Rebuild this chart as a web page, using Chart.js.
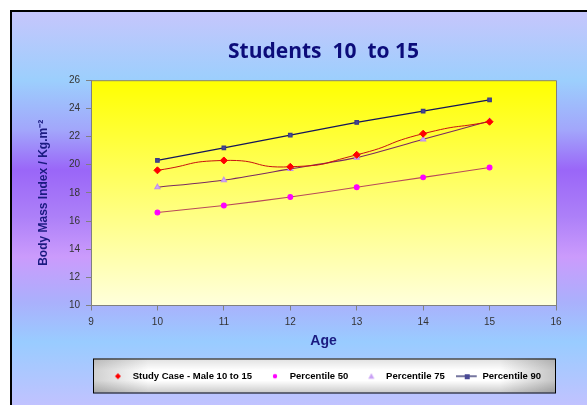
<!DOCTYPE html>
<html>
<head>
<meta charset="utf-8">
<script src="https://cdn.jsdelivr.net/npm/chart.js@4"></script>
<style>
  html, body { margin: 0; padding: 0; background: #fff; overflow: hidden; }
  body { width: 587px; height: 405px; position: relative; }
  .frame {
    position: absolute; left: 10px; top: 10px; width: 600px; height: 420px;
    border: 2px solid #000;
    background: linear-gradient(to bottom, #c6c6fc 0px, #9ccffd 68px, #a2a6fb 118px, #9a66f8 158px,
      #ad80f8 205px, #cb9bfc 245px, #aab0fc 290px, #99ccff 330px, #c2c2ff 395px);
  }
  #chart { position: absolute; left: 0; top: 0; }
</style>
</head>
<body>
<div class="frame"></div>
<canvas id="chart" width="587" height="405"></canvas>
<script>
// data
var ages = [10, 11, 12, 13, 14, 15];
var studyCase = [19.6, 20.3, 19.85, 20.7, 22.2, 23.05];
var p50 = [16.6, 17.1, 17.7, 18.4, 19.1, 19.8];
var p75 = [18.4, 18.9, 19.7, 20.5, 21.8, 23.1];
var p90 = [20.3, 21.2, 22.1, 23.0, 23.8, 24.6];
var seriesNames = ['Study Case - Male 10 to 15', 'Percentile 50', 'Percentile 75', 'Percentile 90'];
var xTicks = [9, 10, 11, 12, 13, 14, 15, 16];
var yTicks = [10, 12, 14, 16, 18, 20, 22, 24, 26];

function pts(vals) {
  return vals.map(function (v, i) { return { x: ages[i], y: v }; });
}

// little legend icons (22x10)
function makeIcon(draw) {
  var c = document.createElement('canvas');
  c.width = 22; c.height = 10;
  draw(c.getContext('2d'));
  return c;
}
var icons = [
  makeIcon(function (g) {
    g.fillStyle = '#ff0000';
    g.beginPath(); g.moveTo(12, 2); g.lineTo(15, 5); g.lineTo(12, 8); g.lineTo(9, 5); g.closePath(); g.fill();
  }),
  makeIcon(function (g) {
    g.fillStyle = '#ff00ff';
    g.beginPath(); g.arc(12, 5, 2.2, 0, Math.PI * 2); g.fill();
  }),
  makeIcon(function (g) {
    g.fillStyle = '#c9a0f5';
    g.beginPath(); g.moveTo(12, 2); g.lineTo(15, 7.5); g.lineTo(9, 7.5); g.closePath(); g.fill();
  }),
  makeIcon(function (g) {
    g.strokeStyle = '#1a1a5e'; g.lineWidth = 1.2;
    g.beginPath(); g.moveTo(0, 5); g.lineTo(21, 5); g.stroke();
    g.fillStyle = '#4a4a96';
    g.fillRect(9, 3, 5, 5);
  })
];

var bgPlugin = {
  id: 'bgPlugin',
  beforeDraw: function (chart) {
    var ctx = chart.ctx, a = chart.chartArea;
    ctx.save();
    var grd = ctx.createLinearGradient(0, a.top, 0, a.bottom);
    grd.addColorStop(0, '#ffff00');
    grd.addColorStop(1, '#ffffdc');
    ctx.fillStyle = grd;
    ctx.fillRect(a.left, a.top, a.right - a.left, a.bottom - a.top);

    // legend box
    var lg = chart.legend;
    var bx = a.left + 2, by = lg.top - 2, bw = a.right - a.left - 3, bh = 34;
    var h = ctx.createLinearGradient(bx, 0, bx + bw, 0);
    h.addColorStop(0, '#cfcfcf');
    h.addColorStop(0.12, '#ffffff');
    h.addColorStop(0.88, '#ffffff');
    h.addColorStop(1, '#c4c4c4');
    ctx.fillStyle = h;
    ctx.fillRect(bx, by, bw, bh);
    var v = ctx.createLinearGradient(0, by, 0, by + bh);
    v.addColorStop(0, 'rgba(0,0,0,0.12)');
    v.addColorStop(0.35, 'rgba(0,0,0,0)');
    v.addColorStop(0.65, 'rgba(0,0,0,0)');
    v.addColorStop(1, 'rgba(0,0,0,0.2)');
    ctx.fillStyle = v;
    ctx.fillRect(bx, by, bw, bh);
    ctx.strokeStyle = '#000';
    ctx.lineWidth = 1;
    ctx.strokeRect(bx + 0.5, by + 0.5, bw, bh);
    ctx.restore();
  },
  beforeDatasetsDraw: function (chart) {
    var ctx = chart.ctx, a = chart.chartArea;
    ctx.save();
    ctx.strokeStyle = '#808080';
    ctx.lineWidth = 1;
    ctx.beginPath();
    ctx.moveTo(a.left, a.top + 0.5);
    ctx.lineTo(a.right + 0.5, a.top + 0.5);
    ctx.lineTo(a.right + 0.5, a.bottom);
    ctx.stroke();
    ctx.restore();
  }
};

var tickFont = { family: 'Liberation Sans, Arial, sans-serif', size: 10 };

new Chart(document.getElementById('chart').getContext('2d'), {
  type: 'line',
  data: {
    datasets: [{
      label: seriesNames[0],
      data: pts(studyCase),
      borderColor: '#c81010',
      borderWidth: 1,
      tension: 0.6,
      pointStyle: 'rectRot',
      pointRadius: 3.5,
      pointBackgroundColor: '#ff0000',
      pointBorderColor: '#ff0000',
      order: 1
    }, {
      label: seriesNames[1],
      data: pts(p50),
      borderColor: '#b84a5a',
      borderWidth: 1.1,
      tension: 0.1,
      pointStyle: 'circle',
      pointRadius: 2.4,
      pointBackgroundColor: '#ff00ff',
      pointBorderColor: '#ff00ff',
      order: 3
    }, {
      label: seriesNames[2],
      data: pts(p75),
      borderColor: '#7a2a62',
      borderWidth: 1.1,
      tension: 0.2,
      pointStyle: 'triangle',
      pointRadius: 3,
      pointBackgroundColor: '#d0a8f8',
      pointBorderColor: '#c090f0',
      order: 2
    }, {
      label: seriesNames[3],
      data: pts(p90),
      borderColor: '#15155a',
      borderWidth: 1.3,
      tension: 0,
      pointStyle: 'rect',
      pointRadius: 2.4,
      pointBackgroundColor: '#4a4a96',
      pointBorderColor: '#3a3a86',
      order: 4
    }]
  },
  options: {
    responsive: false,
    animation: false,
    layout: { padding: { left: 0, right: 31, top: 39, bottom: 14 } },
    scales: {
      x: {
        type: 'linear',
        min: 9, max: 16,
        afterFit: function (s) { s.height = 55; },
        afterBuildTicks: function (s) { s.ticks = xTicks.map(function (v) { return { value: v }; }); },
        grid: { drawOnChartArea: false, tickLength: 5, color: '#808080' },
        border: { color: '#808080' },
        ticks: { font: tickFont, color: '#333', padding: 6, maxRotation: 0 },
        title: {
          display: true, text: 'Age', color: '#1a1a80',
          font: { family: 'Liberation Sans, Arial, sans-serif', size: 14, weight: 'bold' },
          padding: { top: 0, bottom: 11 }
        }
      },
      y: {
        min: 10, max: 26,
        afterFit: function (s) { s.width = 91; },
        afterBuildTicks: function (s) { s.ticks = yTicks.map(function (v) { return { value: v }; }); },
        grid: { drawOnChartArea: false, tickLength: 5, color: '#808080' },
        border: { color: '#808080' },
        ticks: { font: tickFont, color: '#333', padding: 6 },
        title: {
          display: true, text: 'Body Mass Index / Kg.m\u207B\u00B2', color: '#1a1a80',
          font: { family: 'Liberation Sans, Arial, sans-serif', size: 12, weight: 'bold' },
          padding: { top: 36, bottom: 0 }
        }
      }
    },
    plugins: {
      title: {
        display: true,
        text: 'Students  10  to 15',
        fullSize: false,
        color: '#0c0c7a',
        font: { family: 'Open Sans, sans-serif', size: 21, weight: 'bold', lineHeight: 1.2 },
        padding: { top: 0, bottom: 16 }
      },
      legend: {
        position: 'bottom',
        fullSize: false,
        labels: {
          usePointStyle: true,
          pointStyleWidth: 22,
          padding: 11,
          color: '#000',
          font: { family: 'Liberation Sans, Arial, sans-serif', size: 9.5, weight: 'bold' },
          generateLabels: function (chart) {
            return chart.data.datasets.map(function (ds, i) {
              return {
                text: ds.label, datasetIndex: i, pointStyle: icons[i],
                hidden: false, fillStyle: 'transparent', strokeStyle: 'transparent', lineWidth: 0
              };
            });
          }
        }
      },
      tooltip: { enabled: false }
    }
  },
  plugins: [bgPlugin]
});
</script>
</body>
</html>
